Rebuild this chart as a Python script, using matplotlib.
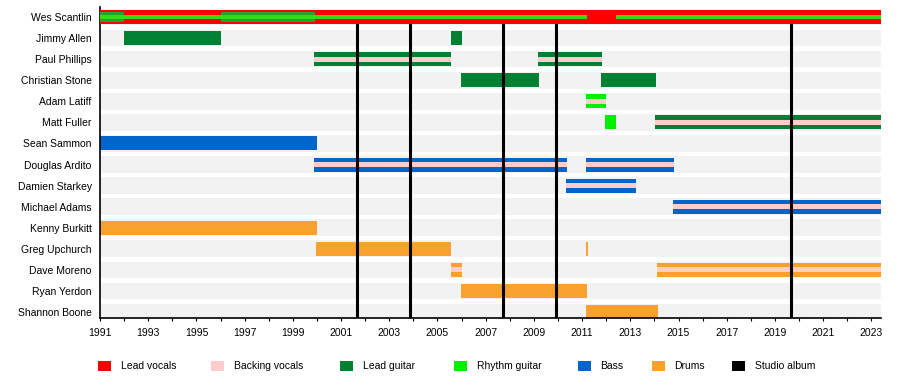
import matplotlib
matplotlib.use("Agg")
import matplotlib.pyplot as plt
from matplotlib.patches import Patch

plt.rcParams.update({"font.family": ["Liberation Sans", "DejaVu Sans"], "font.size": 7.5})

# ---- data ----
members = ["Wes Scantlin", "Jimmy Allen", "Paul Phillips", "Christian Stone", "Adam Latiff",
           "Matt Fuller", "Sean Sammon", "Douglas Ardito", "Damien Starkey", "Michael Adams",
           "Kenny Burkitt", "Greg Upchurch", "Dave Moreno", "Ryan Yerdon", "Shannon Boone"]
start_year, end_year = 1991.0, 2023.4

lead_vocals = [("Wes Scantlin", 1991.0, 2023.4)]
wes_lead_guitar = [("Wes Scantlin", 1991.0, 1992.0), ("Wes Scantlin", 1996.0, 1999.9)]
wes_rhythm_guitar = [("Wes Scantlin", 1991.0, 2011.2), ("Wes Scantlin", 2012.4, 2023.4)]
lead_guitar = [("Jimmy Allen", 1992.0, 1996.0), ("Jimmy Allen", 2005.55, 2006.0),
               ("Paul Phillips", 1999.87, 2005.57), ("Paul Phillips", 2009.15, 2011.83),
               ("Christian Stone", 2005.96, 2009.2), ("Christian Stone", 2011.8, 2014.07),
               ("Matt Fuller", 2014.04, 2023.4)]
rhythm_guitar = [("Adam Latiff", 2011.18, 2012.0), ("Matt Fuller", 2011.97, 2012.4)]
bass = [("Sean Sammon", 1991.0, 2000.0), ("Douglas Ardito", 1999.87, 2010.38),
        ("Douglas Ardito", 2011.18, 2014.83), ("Damien Starkey", 2010.35, 2013.25),
        ("Michael Adams", 2014.79, 2023.4)]
drums = [("Kenny Burkitt", 1991.0, 2000.0), ("Greg Upchurch", 1999.95, 2005.57),
         ("Greg Upchurch", 2011.18, 2011.26), ("Dave Moreno", 2005.55, 2006.0),
         ("Dave Moreno", 2014.12, 2023.4), ("Ryan Yerdon", 2005.96, 2011.22),
         ("Shannon Boone", 2011.18, 2014.15)]
backing_vocals = [("Paul Phillips", 1999.87, 2005.57), ("Paul Phillips", 2009.15, 2011.83),
                  ("Adam Latiff", 2011.18, 2012.0), ("Matt Fuller", 2014.04, 2023.4),
                  ("Douglas Ardito", 1999.87, 2010.38), ("Douglas Ardito", 2011.18, 2014.83),
                  ("Damien Starkey", 2010.35, 2013.25), ("Michael Adams", 2014.79, 2023.4),
                  ("Dave Moreno", 2005.55, 2006.0), ("Dave Moreno", 2014.12, 2023.4)]
studio_albums = [2001.65, 2003.85, 2007.73, 2009.9, 2019.65]

C = {"Lead vocals": "#ff0000", "Backing vocals": "#ffcccc", "Lead guitar": "#008033",
     "Rhythm guitar": "#00ee00", "Bass": "#0066cc", "Drums": "#f9a12e", "Studio album": "#000000"}
legend_x = [98, 211, 340, 454, 578, 652, 732]  # pixel x of each legend square

fig = plt.figure(figsize=(9, 3.78), dpi=100)
ax = fig.add_axes([100 / 900, 60 / 378, 781 / 900, 311.5 / 378])


def spans(rows, color, h, z):
    y = [members.index(r[0]) for r in rows]
    ax.barh(y, [r[2] - r[1] for r in rows], left=[r[1] for r in rows], height=h,
            color=color, linewidth=0, zorder=z)


# grey row bands
ax.barh(range(len(members)), end_year - start_year, left=start_year, height=0.79,
        color="#f2f2f2", linewidth=0, zorder=1)

spans(lead_guitar, C["Lead guitar"], 0.665, 2)
spans(rhythm_guitar, C["Rhythm guitar"], 0.665, 2)
spans(bass, C["Bass"], 0.665, 2)
spans(drums, C["Drums"], 0.665, 2)
spans(backing_vocals, C["Backing vocals"], 0.23, 2.5)

ax.vlines(studio_albums, 0, len(members), color="black", linewidth=2.2, zorder=3)

spans(lead_vocals, C["Lead vocals"], 0.665, 4)
spans(wes_lead_guitar, "#22a32a", 0.46, 4.5)
spans(wes_rhythm_guitar, "#33dd11", 0.22, 5)

ax.set_xlim(start_year, end_year)
ax.set_ylim(len(members) - 1 + 0.285, -0.5)
ax.set_yticks(range(len(members)))
ax.set_yticklabels(members)
ax.tick_params(axis="y", length=0, pad=6)
ax.set_xticks(range(1991, 2024, 2))
ax.set_xticks(range(1991, 2024), minor=True)
ax.tick_params(axis="x", which="both", length=2.5, width=0.8, pad=4.5)
for s in ("top", "right"):
    ax.spines[s].set_visible(False)
ax.spines["left"].set_linewidth(1.2)
ax.spines["bottom"].set_linewidth(1.2)
ax.spines["left"].set_zorder(3.5)

for (k, c), lx in zip(C.items(), legend_x):
    fig.legend(handles=[Patch(facecolor=c, edgecolor="none", label=k)], loc="center left",
               bbox_to_anchor=(lx / 900, 12 / 378), frameon=False, handlelength=1.22,
               handleheight=1.22, handletextpad=0.95, borderpad=0, borderaxespad=0)

fig.savefig("out.png", dpi=100)
